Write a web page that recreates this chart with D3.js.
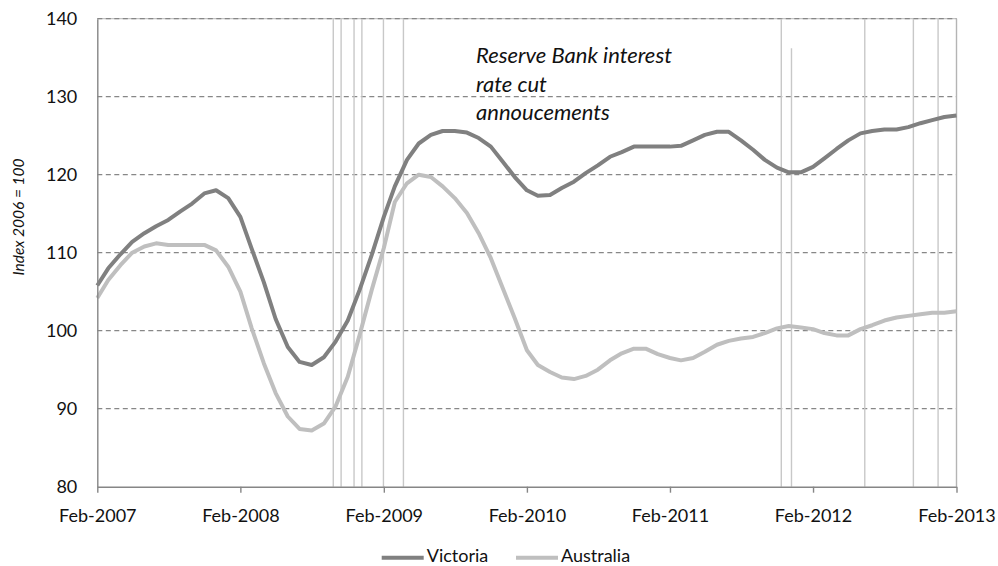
<!DOCTYPE html>
<html>
<head>
<meta charset="utf-8">
<script src="https://cdn.jsdelivr.net/npm/d3@7"></script>
<style>
  body { margin: 0; background: #fff; }
  svg { font-family: Lato, "Open Sans", sans-serif; }
</style>
</head>
<body>
<svg id="chart" width="998" height="566"></svg>
<script>
// monthly index values, Feb-2007 .. Feb-2013
const firstMonth = "2007-02-01";
const victoria = [
  105.8, 108.0, 109.8, 111.4, 112.5, 113.4, 114.2, 115.3, 116.3, 117.6, 118.0, 117.0,
  114.6, 110.5, 106.2, 101.5, 97.9, 96.0, 95.6, 96.6, 98.6, 101.3, 105.2, 109.7,
  114.6, 118.5, 121.9, 124.0, 125.1, 125.6, 125.6, 125.4, 124.7, 123.6, 121.7, 119.7,
  118.0, 117.3, 117.4, 118.3, 119.1, 120.2, 121.2, 122.3, 122.9, 123.6, 123.6, 123.6,
  123.6, 123.7, 124.4, 125.1, 125.5, 125.5, 124.4, 123.2, 121.9, 120.9, 120.3, 120.3,
  121.0, 122.1, 123.3, 124.4, 125.3, 125.6, 125.8, 125.8, 126.1, 126.6, 127.0, 127.4,
  127.6
];
const australia = [
  104.2, 106.5, 108.4, 110.0, 110.8, 111.2, 111.0, 111.0, 111.0, 111.0, 110.3, 108.2,
  105.0, 100.3, 95.8, 92.0, 89.0, 87.4, 87.2, 88.1, 90.3, 94.1, 99.4, 105.2,
  110.6, 116.5, 118.9, 120.0, 119.7, 118.5, 117.0, 115.1, 112.5, 109.3, 105.5, 101.6,
  97.5, 95.6, 94.7, 94.0, 93.8, 94.2, 95.0, 96.2, 97.1, 97.7, 97.7, 97.0,
  96.5, 96.2, 96.5, 97.3, 98.2, 98.7, 99.0, 99.2, 99.7, 100.3, 100.6, 100.4,
  100.2, 99.7, 99.4, 99.4, 100.2, 100.7, 101.3, 101.7, 101.9, 102.1, 102.3, 102.3,
  102.5
];
const seriesNames = ["Victoria", "Australia"];

// rate cut announcement markers (date, top of marker on index scale)
const cutDates = [
  "2008-09-25", "2008-10-15", "2008-11-17", "2008-12-07", "2009-01-31", "2009-03-23",
  "2011-11-12", "2011-12-08", "2012-06-12", "2012-10-14", "2012-12-16"
];
const cutTops = [140, 140, 140, 140, 140, 140, 140, 136.2, 140, 140, 140];
const noteLines = ["Reserve Bank interest", "rate cut", "annoucements"];

const yTicks = [80, 90, 100, 110, 120, 130, 140];
const xTickDates = ["2007-02-01", "2008-02-01", "2009-02-01", "2010-02-01",
  "2011-02-01", "2012-02-01", "2013-02-01"];
const yTitle = "Index 2006 = 100";

const parse = d3.utcParse("%Y-%m-%d");
const start = parse(firstMonth);
const months = victoria.map((v, i) => d3.utcMonth.offset(start, i));

const svg = d3.select("#chart");
const plotLeft = 97.3, plotRight = 956.5, plotTop = 18.7, plotBottom = 486.7;

const x = d3.scaleUtc()
  .domain([start, months[months.length - 1]])
  .range([plotLeft, plotRight]);

const y = d3.scaleLinear()
  .domain([80, 140])
  .range([plotBottom, plotTop]);

// gridlines
svg.append("line")
  .attr("x1", plotLeft).attr("x2", plotRight)
  .attr("y1", y(140)).attr("y2", y(140))
  .attr("stroke", "#c4c4c4")
  .attr("stroke-width", 1.2);

svg.append("g")
  .selectAll("line")
  .data(yTicks.slice(1))
  .join("line")
    .attr("x1", plotLeft)
    .attr("x2", plotRight)
    .attr("y1", d => y(d))
    .attr("y2", d => y(d))
    .attr("stroke", "#878787")
    .attr("stroke-width", 1.2)
    .attr("stroke-dasharray", "5,3.5");

svg.append("line")
  .attr("x1", plotRight).attr("x2", plotRight)
  .attr("y1", y(140)).attr("y2", y(80))
  .attr("stroke", "#b4b4b4")
  .attr("stroke-width", 1.4);

// rate cut markers
svg.append("g")
  .selectAll("line")
  .data(cutDates.map((d, i) => ({date: parse(d), topv: cutTops[i]})))
  .join("line")
    .attr("x1", d => x(d.date))
    .attr("x2", d => x(d.date))
    .attr("y1", d => y(d.topv))
    .attr("y2", y(80))
    .attr("stroke", "#c8c8c8")
    .attr("stroke-width", 1.4);

// series
const line = d3.line()
  .x((d, i) => x(months[i]))
  .y(d => y(d));

svg.append("path")
  .attr("fill", "none")
  .attr("stroke", "#bfbfbf")
  .attr("stroke-width", 4)
  .attr("stroke-linejoin", "round")
  .attr("d", line(australia));

svg.append("path")
  .attr("fill", "none")
  .attr("stroke", "#808080")
  .attr("stroke-width", 4)
  .attr("stroke-linejoin", "round")
  .attr("d", line(victoria));

// axes
const yAxis = svg.append("g")
  .attr("transform", `translate(${plotLeft},0)`)
  .call(d3.axisLeft(y).tickValues(yTicks).tickSize(0).tickPadding(20));
yAxis.select(".domain").attr("stroke", "#868686").attr("stroke-width", 1.4);
yAxis.selectAll("text")
  .attr("font-size", 18)
  .attr("font-family", "Lato")
  .attr("fill", "#111");

const xAxis = svg.append("g")
  .attr("transform", `translate(0,${plotBottom})`)
  .call(d3.axisBottom(x)
    .tickValues(xTickDates.map(parse))
    .tickFormat(d3.utcFormat("%b-%Y"))
    .tickSize(6)
    .tickSizeOuter(0)
    .tickPadding(17));
xAxis.select(".domain").attr("stroke", "#868686").attr("stroke-width", 1.4);
xAxis.selectAll(".tick line").attr("stroke", "#868686").attr("stroke-width", 1.4);
xAxis.selectAll("text")
  .attr("font-size", 18)
  .attr("font-family", "Lato")
  .attr("fill", "#111");

// y title
svg.append("text")
  .attr("transform", `translate(24,217) rotate(-90)`)
  .attr("text-anchor", "middle")
  .attr("font-size", 15.5)
  .attr("font-style", "italic")
  .attr("fill", "#111")
  .text(yTitle);

// note
svg.append("g")
  .selectAll("text")
  .data(noteLines)
  .join("text")
    .attr("x", 476)
    .attr("y", (d, i) => 63 + i * 28.5)
    .attr("font-size", 22)
    .attr("font-style", "italic")
    .attr("fill", "#111")
    .text(d => d);

// legend
const legendX = [381.7, 516];
const legendColors = ["#808080", "#bfbfbf"];
const legend = svg.append("g")
  .selectAll("g")
  .data(seriesNames)
  .join("g")
    .attr("transform", (d, i) => `translate(${legendX[i]},557.7)`);
legend.append("line")
  .attr("x1", 0).attr("x2", 42)
  .attr("stroke", (d, i) => legendColors[i])
  .attr("stroke-width", 4);
legend.append("text")
  .attr("x", 45)
  .attr("y", 4)
  .attr("font-size", 18)
  .attr("fill", "#111")
  .text(d => d);
</script>
</body>
</html>
